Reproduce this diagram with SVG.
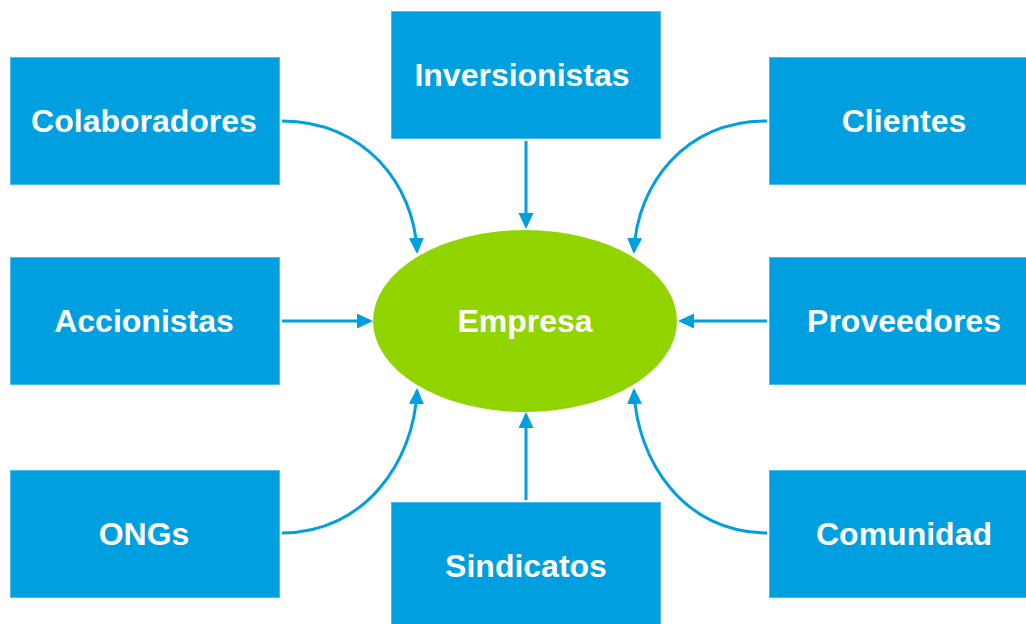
<svg xmlns="http://www.w3.org/2000/svg" width="1026" height="624" viewBox="0 0 1026 624">
<style>
.box{fill:#009FDF;stroke:#4DBDEA;stroke-width:1}
.lbl{font-family:"Liberation Sans",Arial,sans-serif;font-weight:bold;font-size:32px;fill:#FFFFFF;text-anchor:middle}
.con{fill:none;stroke:#009FDF;stroke-width:3}
</style>
<defs>
<marker id="ah" markerUnits="userSpaceOnUse" markerWidth="16" markerHeight="16" viewBox="0 0 16 16" refX="13" refY="7.5" orient="auto">
<path d="M0,0 L16,7.5 L0,15 z" fill="#009FDF"/>
</marker>
</defs>
<rect width="1026" height="624" fill="#FFFFFF"/>
<g id="connectors">
<path class="con" d="M526,141 L526,226" marker-end="url(#ah)"/>
<path class="con" d="M526,500 L526,415" marker-end="url(#ah)"/>
<path class="con" d="M282,321 L370,321" marker-end="url(#ah)"/>
<path class="con" d="M767,321 L681,321" marker-end="url(#ah)"/>
<path class="con" d="M282,121 C365,121 414,185 417,251" marker-end="url(#ah)"/>
<path class="con" d="M767,121 C684,121 637,185 634,251" marker-end="url(#ah)"/>
<path class="con" d="M282,533 C365,533 414,461 417,391" marker-end="url(#ah)"/>
<path class="con" d="M767,533 C684,533 637,461 634,391" marker-end="url(#ah)"/>
</g>
<g id="empresa">
<ellipse cx="525" cy="321" rx="152" ry="91" fill="#92D400"/>
<text class="lbl" x="525" y="332">Empresa</text>
</g>
<g id="inversionistas">
<rect class="box" x="391.5" y="11.5" width="269" height="127"/>
<text class="lbl" x="522" y="86">Inversionistas</text>
</g>
<g id="sindicatos">
<rect class="box" x="391.5" y="502.5" width="269" height="127"/>
<text class="lbl" x="526" y="577">Sindicatos</text>
</g>
<g id="colaboradores">
<rect class="box" x="10.5" y="57.5" width="269" height="127"/>
<text class="lbl" x="144" y="132">Colaboradores</text>
</g>
<g id="accionistas">
<rect class="box" x="10.5" y="257.5" width="269" height="127"/>
<text class="lbl" x="144" y="332">Accionistas</text>
</g>
<g id="ongs">
<rect class="box" x="10.5" y="470.5" width="269" height="127"/>
<text class="lbl" x="144" y="545">ONGs</text>
</g>
<g id="clientes">
<rect class="box" x="769.5" y="57.5" width="269" height="127"/>
<text class="lbl" x="904" y="132">Clientes</text>
</g>
<g id="proveedores">
<rect class="box" x="769.5" y="257.5" width="269" height="127"/>
<text class="lbl" x="904" y="332">Proveedores</text>
</g>
<g id="comunidad">
<rect class="box" x="769.5" y="470.5" width="269" height="127"/>
<text class="lbl" x="904" y="545">Comunidad</text>
</g>
</svg>
